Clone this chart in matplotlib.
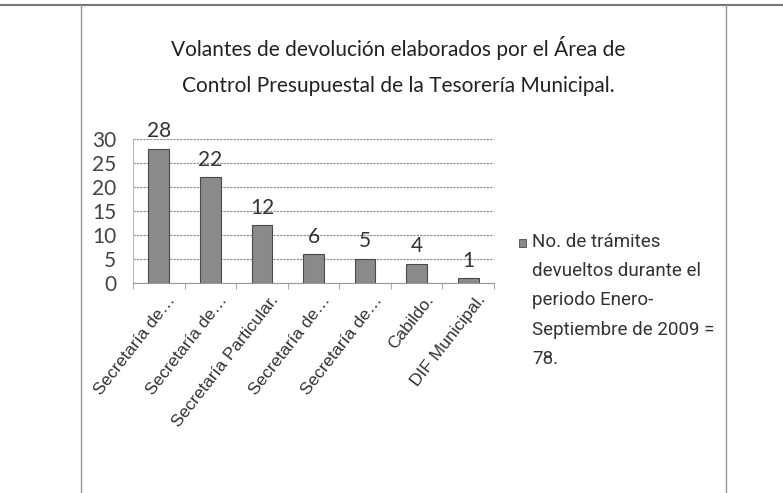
import matplotlib.pyplot as plt
from matplotlib.patches import Rectangle
from matplotlib.lines import Line2D
from matplotlib.transforms import ScaledTranslation

categorias = ['Secretaría de…', 'Secretaría de…', 'Secretaría Particular.',
              'Secretaría de…', 'Secretaría de…', 'Cabildo.', 'DIF Municipal.']
tramites = [28, 22, 12, 6, 5, 4, 1]
y_ticks = [0, 5, 10, 15, 20, 25, 30]
titulo = 'Volantes de devolución elaborados por el Área de\nControl Presupuestal de la Tesorería Municipal.'
leyenda = 'No. de trámites\ndevueltos durante el\nperiodo Enero-\nSeptiembre de 2009 =\n78.'

titulo_font = 'Lato'

fig = plt.figure(figsize=(7.83, 4.93), dpi=100)
W, H = 783, 493

# marco de la hoja escaneada
fig.add_artist(Line2D([0, 1], [1 - 5 / H, 1 - 5 / H], transform=fig.transFigure,
                      color='#777777', lw=1.5))
fig.add_artist(Line2D([81 / W, 81 / W], [0, 1 - 5 / H], transform=fig.transFigure,
                      color='#999999', lw=1))
fig.add_artist(Line2D([726 / W, 726 / W], [0, 1 - 5 / H], transform=fig.transFigure,
                      color='#999999', lw=1))

ax = fig.add_axes([133 / W, 1 - 283 / H, (494 - 133) / W, (283 - 139) / H])
x = range(len(tramites))
ax.bar(x, tramites, width=0.4, color='#8a8a8a', edgecolor='#4a4a4a', lw=0.8)
for xi, v in zip(x, tramites):
    ax.text(xi, v + 1.6, str(v), ha='center', va='bottom', fontsize=15,
            family=titulo_font, color='#333333')

ax.set_xlim(-0.5, len(tramites) - 0.5)
ax.set_ylim(0, 30)
ax.set_yticks(y_ticks)
ax.set_yticklabels([str(t) for t in y_ticks], family=titulo_font, fontsize=15, color='#444444')
ax.yaxis.grid(True, ls=(0, (2, 1)), color='#8a8a8a', lw=0.8)
ax.set_axisbelow(True)
for s in ['top', 'right']:
    ax.spines[s].set_visible(False)
ax.spines['left'].set_color('#bbbbbb')
ax.spines['bottom'].set_color('#999999')
ax.tick_params(axis='y', length=0, pad=12)
ax.set_xticks([i - 0.5 for i in range(len(tramites) + 1)], minor=True)
ax.tick_params(axis='x', which='minor', length=4, color='#999999')
ax.set_xticks(list(x))
ax.set_xticklabels(categorias, rotation=52, ha='right', va='center', rotation_mode='anchor',
                   family='Liberation Sans', fontsize=12.5, color='#333333')
ax.tick_params(axis='x', which='major', length=0, pad=10)
desplaza = ScaledTranslation(14 / 100, 0, fig.dpi_scale_trans)
for lbl in ax.get_xticklabels():
    lbl.set_transform(lbl.get_transform() + desplaza)

fig.text(398 / W, 1 - 66 / H, titulo, ha='center', va='center', fontsize=15,
         family=titulo_font, color='#222222', linespacing=2.05)

# leyenda
fig.add_artist(Rectangle((519 / W, 1 - 247 / H), 7 / W, 8 / H, transform=fig.transFigure,
                         facecolor='#8a8a8a', edgecolor='#4a4a4a', lw=0.6))
fig.text(532 / W, 1 - 233 / H, leyenda, ha='left', va='top', fontsize=13.5,
         family='Roboto', color='#333333', linespacing=1.8)

fig.savefig('out.png', dpi=100)
